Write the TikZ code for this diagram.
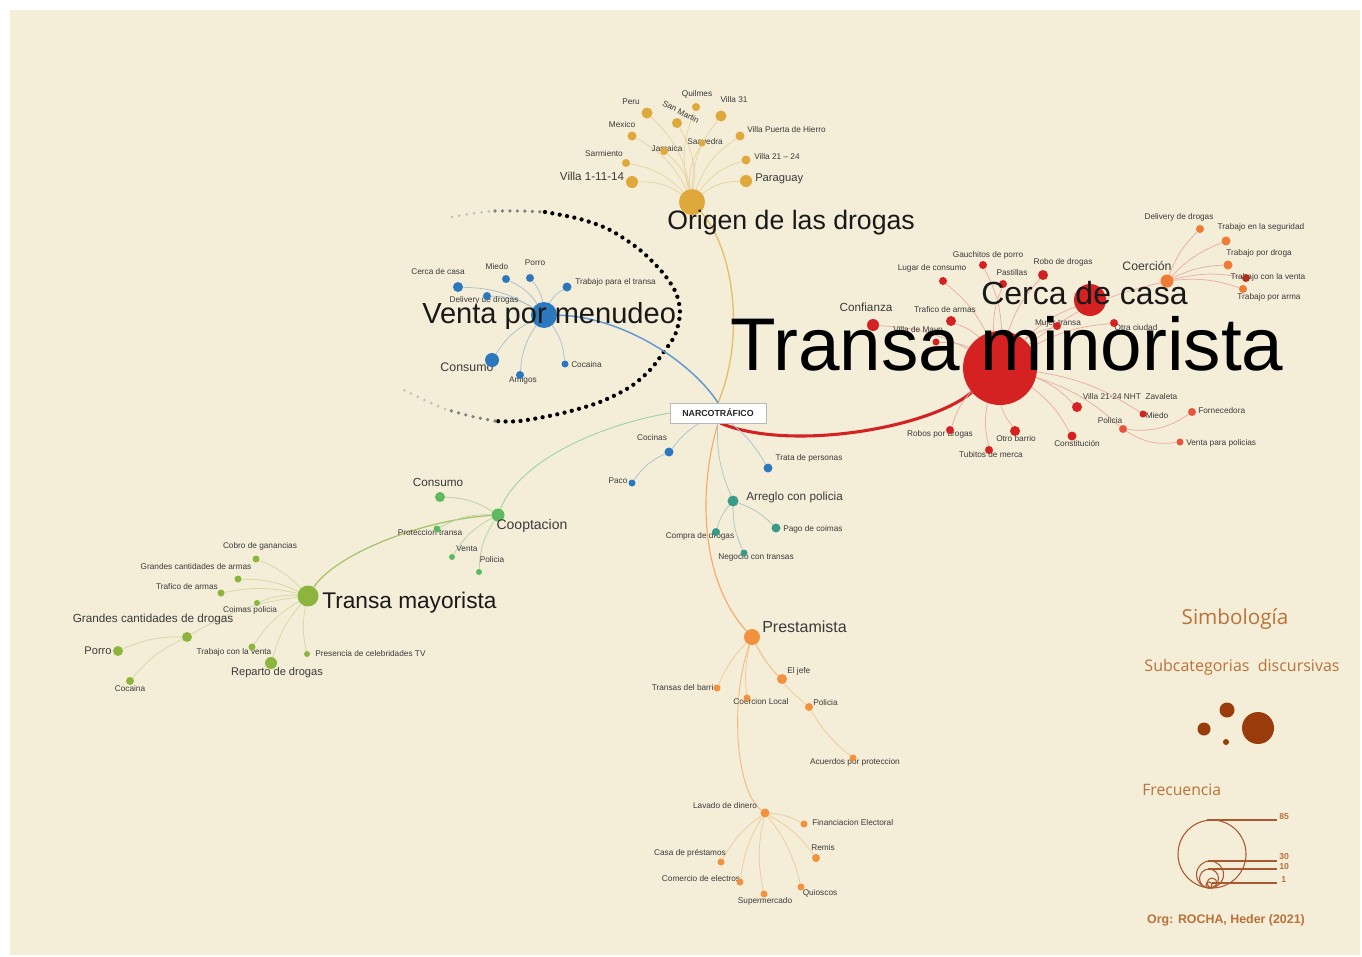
\documentclass[tikz,border=0pt]{standalone}
\usepackage{fontspec}
\setmainfont{Liberation Sans}
\newfontfamily\legf{Open Sans}
\definecolor{bgc}{HTML}{F4EDD7}
\definecolor{corig}{HTML}{DEA83A}
\definecolor{eorig}{HTML}{E8D3A0}
\definecolor{cblue}{HTML}{2B78BE}
\definecolor{eblue}{HTML}{A8C0D0}
\definecolor{cred}{HTML}{D42222}
\definecolor{ered}{HTML}{E9AEA2}
\definecolor{corange}{HTML}{EF7B34}
\definecolor{cdred}{HTML}{B0301E}
\definecolor{cpol}{HTML}{E8553F}
\definecolor{cteal}{HTML}{3A9B8A}
\definecolor{eteal}{HTML}{A9C8BF}
\definecolor{cgreen}{HTML}{5DBA5E}
\definecolor{egreen}{HTML}{B5D4A2}
\definecolor{colive}{HTML}{8DB53D}
\definecolor{eolive}{HTML}{D3D8A6}
\definecolor{cpres}{HTML}{F2923E}
\definecolor{epres}{HTML}{F0C99C}
\definecolor{txt}{HTML}{3A3A3A}
\definecolor{legt}{HTML}{B8733A}
\definecolor{legc}{HTML}{9A3B0C}
\pgfdeclarelayer{bgl}
\pgfdeclarelayer{edges}
\pgfdeclarelayer{labs}
\pgfdeclarelayer{top}
\pgfsetlayers{bgl,edges,labs,main,top}
\begin{document}
\begin{tikzpicture}[x=0.75pt,y=-0.75pt,
  dot/.style={circle,inner sep=0pt,minimum size=1.5pt*#1},
  lab/.style={font=\fontsize{6.2}{7}\selectfont,text=txt,inner sep=0pt},
  mlab/.style={font=\fontsize{#1}{#1}\selectfont,text=txt,inner sep=0pt},
  blab/.style={font=\fontsize{#1}{#1}\selectfont,text=black!90,inner sep=0pt,anchor=base west},
  edg/.style={line width=0.55pt,draw=#1},
  dotsty/.style={line width=#1,dash pattern=on 0pt off 5.6pt,line cap=round},
  legtxt/.style={font=\legf\fontsize{#1}{#1}\selectfont,text=legt,inner sep=0pt},
  legnum/.style={font=\bfseries\fontsize{6.5}{7}\selectfont,text=legt,inner sep=0pt,anchor=west},
  legln/.style={legc!85,line width=0.8pt}]
\useasboundingbox (0,0) rectangle (1362,956);
\begin{pgfonlayer}{bgl}
\fill[white] (0,0) rectangle (1362,956);
\fill[bgc] (10,10) rectangle (1360,955);
\end{pgfonlayer}

% ---------- central box ----------
\node[draw=gray!55,fill=white,minimum width=72pt,minimum height=15pt,inner sep=0pt,
  font=\bfseries\fontsize{6.6}{7}\selectfont,text=black!85] (nar) at (718,413) {NARCOTRÁFICO\hspace{8pt}};

% ---------- ORIGEN ----------
\node[dot=13,fill=corig] (og) at (692,202) {};
\node[dot=6,fill=corig] (og1) at (632,182) {};
\node[dot=4,fill=corig] (og2) at (626,163) {};
\node[dot=4.5,fill=corig] (og3) at (632,136) {};
\node[dot=5.5,fill=corig] (og4) at (647,113) {};
\node[dot=5,fill=corig] (og5) at (677,123) {};
\node[dot=4,fill=corig] (og6) at (696,107) {};
\node[dot=5.5,fill=corig] (og7) at (721,116) {};
\node[dot=4,fill=corig] (og8) at (664,151) {};
\node[dot=3.5,fill=corig] (og9) at (702,143) {};
\node[dot=4.5,fill=corig] (og10) at (740,136) {};
\node[dot=4.5,fill=corig] (og11) at (746,160) {};
\node[dot=6,fill=corig] (og12) at (746,181) {};
\begin{pgfonlayer}{labs}
\node[mlab=8.7] (og1l) at (592,176) {Villa 1-11-14};
\node[lab] (og2l) at (604,154) {Sarmiento};
\node[lab] (og3l) at (622,125) {Mexico};
\node[lab] (og4l) at (631,102) {Peru};
\node[lab,rotate=-28] (og5l) at (681,112) {San Martin};
\node[lab] (og6l) at (697,94) {Quilmes};
\node[lab] (og7l) at (734,100) {Villa 31};
\node[lab] (og8l) at (667,149) {Jamaica};
\node[lab] (og9l) at (705,142) {Saavedra};
\node[lab,anchor=west] (og10l) at (747,130) {Villa Puerta de Hierro};
\node[lab,anchor=west] (og11l) at (754,157) {Villa 21 – 24};
\node[mlab=8.4,anchor=west] (og12l) at (755,179) {Paraguay};
\end{pgfonlayer}

% ---------- VENTA POR MENUDEO ----------
\node[dot=13,fill=cblue] (vm) at (544,315) {};
\node[dot=5,fill=cblue] (vm1) at (458,287) {};
\node[dot=4,fill=cblue] (vm2) at (506,279) {};
\node[dot=4,fill=cblue] (vm3) at (530,278) {};
\node[dot=4.5,fill=cblue] (vm4) at (567,287) {};
\node[dot=4,fill=cblue] (vm5) at (487,296) {};
\node[dot=7,fill=cblue] (vm6) at (492,360) {};
\node[dot=4,fill=cblue] (vm7) at (520,375) {};
\node[dot=3.5,fill=cblue] (vm8) at (565,364) {};
\begin{pgfonlayer}{labs}
\node[lab] (vm1l) at (438,272) {Cerca de casa};
\node[lab] (vm2l) at (497,267) {Miedo};
\node[lab] (vm3l) at (535,263) {Porro};
\node[lab,anchor=west] (vm4l) at (575,282) {Trabajo para el transa};
\node[lab] (vm5l) at (484,300) {Delivery de drogas};
\node[mlab=9.3] (vm6l) at (467,367) {Consumo};
\node[lab] (vm7l) at (523,380) {Amigos};
\node[lab,anchor=west] (vm8l) at (571,365) {Cocaina};
\end{pgfonlayer}

% ---------- TRANSA MINORISTA ----------
\node[dot=37,fill=cred] (tm) at (1000,368) {};
\node[dot=16,fill=cred] (tm1) at (1090,300) {};
\node[dot=6.5,fill=corange] (tm2) at (1167,281) {};
\node[dot=4,fill=corange] (tm2a) at (1200,229) {};
\node[dot=4.5,fill=corange] (tm2b) at (1226,241) {};
\node[dot=4.5,fill=corange] (tm2c) at (1228,265) {};
\node[dot=4,fill=cdred] (tm2d) at (1246,278) {};
\node[dot=4,fill=corange] (tm2e) at (1243,289) {};
\node[dot=4,fill=cred] (tm3) at (983,265) {};
\node[dot=4,fill=cred] (tm4) at (943,281) {};
\node[dot=4,fill=cred] (tm5) at (1003,284) {};
\node[dot=5,fill=cred] (tm6) at (1043,275) {};
\node[dot=6,fill=cred] (tm7) at (873,325) {};
\node[dot=5,fill=cred] (tm8) at (951,321) {};
\node[dot=3.5,fill=cred] (tm9) at (936,342) {};
\node[dot=4,fill=cred] (tm10) at (1057,326) {};
\node[dot=4,fill=cred] (tm11) at (1114,323) {};
\node[dot=5,fill=cred] (tm12) at (1077,407) {};
\node[dot=3.5,fill=cred] (tm13) at (1143,414) {};
\node[dot=4,fill=cpol] (tm14) at (1123,429) {};
\node[dot=4,fill=cpol] (tm15) at (1192,412) {};
\node[dot=3.5,fill=cpol] (tm16) at (1180,442) {};
\node[dot=4.5,fill=cred] (tm17) at (1072,436) {};
\node[dot=5,fill=cred] (tm18) at (1015,431) {};
\node[dot=4,fill=cred] (tm19) at (989,450) {};
\node[dot=4,fill=cred] (tm20) at (950,430) {};
\begin{pgfonlayer}{labs}
\node[mlab=9.2] (tm2l) at (1147,266) {Coerción};
\node[lab] (tm2al) at (1179,217) {Delivery de drogas};
\node[lab] (tm2bl) at (1261,227) {Trabajo en la seguridad};
\node[lab] (tm2cl) at (1259,253) {Trabajo por droga};
\node[lab] (tm2dl) at (1268,277) {Trabajo con la venta};
\node[lab] (tm2el) at (1269,297) {Trabajo por arma};
\node[lab] (tm3l) at (988,255) {Gauchitos de porro};
\node[lab] (tm4l) at (932,268) {Lugar de consumo};
\node[lab] (tm5l) at (1012,273) {Pastillas};
\node[lab] (tm6l) at (1063,262) {Robo de drogas};
\node[mlab=8.8] (tm7l) at (866,307) {Confianza};
\node[lab] (tm8l) at (945,310) {Trafico de armas};
\node[lab] (tm9l) at (918,330) {Villa de Mayo};
\node[lab] (tm10l) at (1058,323) {Mujer transa};
\node[lab] (tm11l) at (1136,328) {Otra ciudad};
\node[lab] (tm12l) at (1130,397) {Villa 21-24 NHT\ \ Zavaleta};
\node[lab] (tm13l) at (1157,416) {Miedo};
\node[lab] (tm14l) at (1110,421) {Policia};
\node[lab,anchor=west] (tm15l) at (1198,411) {Fornecedora};
\node[lab,anchor=west] (tm16l) at (1186,443) {Venta para policias};
\node[lab] (tm17l) at (1077,443) {Constitución};
\node[lab] (tm18l) at (1016,439) {Otro barrio};
\node[lab] (tm19l) at (991,455) {Tubitos de merca};
\node[lab] (tm20l) at (940,434) {Robos por drogas};
\end{pgfonlayer}

% ---------- CENTRE CHILDREN ----------
\node[dot=4.5,fill=cblue] (cc) at (669,452) {};
\node[dot=3.5,fill=cblue] (pa) at (632,483) {};
\node[dot=4.5,fill=cblue] (tp) at (768,468) {};
\node[dot=5.5,fill=cteal] (ap) at (733,501) {};
\node[dot=4,fill=cteal] (ap1) at (716,532) {};
\node[dot=3.5,fill=cteal] (ap2) at (744,553) {};
\node[dot=4.5,fill=cteal] (ap3) at (776,528) {};
\begin{pgfonlayer}{labs}
\node[lab] (ccl) at (652,438) {Cocinas};
\node[lab] (pal) at (618,481) {Paco};
\node[lab] (tpl) at (809,458) {Trata de personas};
\node[mlab=8.8,anchor=west] (apl) at (746,497) {Arreglo con policia};
\node[lab] (ap1l) at (700,536) {Compra de drogas};
\node[lab] (ap2l) at (756,557) {Negocio con transas};
\node[lab,anchor=west] (ap3l) at (783,529) {Pago de coimas};
\end{pgfonlayer}

% ---------- COOPTACION ----------
\node[dot=6.5,fill=cgreen] (co) at (498,515) {};
\node[dot=5,fill=cgreen] (co1) at (440,497) {};
\node[dot=3.5,fill=cgreen] (co2) at (437,529) {};
\node[dot=3,fill=cgreen] (co3) at (452,557) {};
\node[dot=3,fill=cgreen] (co4) at (479,572) {};
\begin{pgfonlayer}{labs}
\node[mlab=8.8] (co1l) at (438,482) {Consumo};
\node[lab] (co2l) at (430,533) {Proteccion transa};
\node[lab] (co3l) at (467,549) {Venta};
\node[lab] (co4l) at (492,560) {Policia};
\end{pgfonlayer}

% ---------- TRANSA MAYORISTA ----------
\node[dot=10.5,fill=colive] (ma) at (308,596) {};
\node[dot=3.5,fill=colive] (ma1) at (256,559) {};
\node[dot=3.5,fill=colive] (ma2) at (238,579) {};
\node[dot=3.5,fill=colive] (ma3) at (221,593) {};
\node[dot=3,fill=colive] (ma4) at (257,603) {};
\node[dot=5,fill=colive] (ma5) at (187,637) {};
\node[dot=5,fill=colive] (ma6) at (118,651) {};
\node[dot=4,fill=colive] (ma7) at (130,681) {};
\node[dot=3.5,fill=colive] (ma8) at (252,647) {};
\node[dot=6,fill=colive] (ma9) at (271,663) {};
\node[dot=3,fill=colive] (ma10) at (307,654) {};
\begin{pgfonlayer}{labs}
\node[lab] (ma1l) at (260,546) {Cobro de ganancias};
\node[lab] (ma2l) at (196,567) {Grandes cantidades de armas};
\node[lab] (ma3l) at (187,587) {Trafico de armas};
\node[lab] (ma4l) at (250,610) {Coimas policia};
\node[mlab=8.8] (ma5l) at (153,619) {Grandes cantidades de drogas};
\node[mlab=8.3] (ma6l) at (98,651) {Porro};
\node[lab] (ma7l) at (130,689) {Cocaina};
\node[lab] (ma8l) at (234,652) {Trabajo con la venta};
\node[mlab=8.3] (ma9l) at (277,673) {Reparto de drogas};
\node[lab,anchor=west] (ma10l) at (315,654) {Presencia de celebridades TV};
\end{pgfonlayer}

% ---------- PRESTAMISTA ----------
\node[dot=8,fill=cpres] (pr) at (752,637) {};
\node[dot=5,fill=cpres] (pr1) at (782,679) {};
\node[dot=3.5,fill=cpres] (pr2) at (717,688) {};
\node[dot=3.5,fill=cpres] (pr3) at (747,698) {};
\node[dot=4,fill=cpres] (pr4) at (809,707) {};
\node[dot=3.5,fill=cpres] (pr5) at (853,758) {};
\begin{pgfonlayer}{labs}
\node[mlab=12,anchor=west] (prl) at (762,627) {Prestamista};
\node[lab,anchor=west] (pr1l) at (787,671) {El jefe};
\node[lab] (pr2l) at (685,688) {Transas del barrio};
\node[lab] (pr3l) at (761,702) {Coercion Local};
\node[lab,anchor=west] (pr4l) at (813,703) {Policia};
\node[lab] (pr5l) at (855,762) {Acuerdos por proteccion};
\end{pgfonlayer}

% ---------- LAVADO ----------
\node[dot=4.5,fill=cpres] (lv) at (765,813) {};
\node[dot=3.5,fill=cpres] (lv1) at (804,824) {};
\node[dot=4,fill=cpres] (lv2) at (816,858) {};
\node[dot=3.5,fill=cpres] (lv3) at (721,862) {};
\node[dot=3.5,fill=cpres] (lv4) at (740,882) {};
\node[dot=3.5,fill=cpres] (lv5) at (764,894) {};
\node[dot=3.5,fill=cpres] (lv6) at (801,887) {};
\begin{pgfonlayer}{labs}
\node[lab] (lvl) at (725,806) {Lavado de dinero};
\node[lab,anchor=west] (lv1l) at (812,823) {Financiacion Electoral};
\node[lab] (lv2l) at (823,848) {Remis};
\node[lab] (lv3l) at (690,853) {Casa de préstamos};
\node[lab] (lv4l) at (701,879) {Comercio de electros};
\node[lab] (lv5l) at (765,901) {Supermercado};
\node[lab] (lv6l) at (820,893) {Quioscos};
\end{pgfonlayer}

% ---------- EDGES ----------
\begin{pgfonlayer}{edges}
% dotted ellipse
\draw[dotsty=3.2pt,black] plot[smooth] coordinates {(545,212) (580,219) (610,230) (640,250) (663,273) (676,293) (680,313) (675,335) (663,353) (650,370) (630,387) (600,402) (563,413) (520,421) (495,421)};
\draw[dotsty=2.7pt,black!50] plot[smooth] coordinates {(495,211) (520,211) (545,212)};
\draw[dotsty=2.7pt,black!50] plot[smooth] coordinates {(495,421) (470,416) (445,409)};
\draw[dotsty=2.2pt,black!25] plot[smooth] coordinates {(452,217) (475,213) (495,211)};
\draw[dotsty=2.2pt,black!25] plot[smooth] coordinates {(445,409) (420,398) (398,387)};
% main branches
\draw[line width=1pt,draw=corig!75] (nar.north) .. controls (745,340) and (735,250) .. (og);
\draw[line width=1.1pt,draw=cblue!75] (nar.north) .. controls (690,360) and (620,316) .. (vm);
\draw[line width=2.3pt,draw=cred] ([xshift=2pt]nar.south) .. controls (790,452) and (930,428) .. (tm);
\draw[line width=0.7pt,draw=cgreen!60] (nar.west) .. controls (600,425) and (520,460) .. (co);
\draw[line width=0.9pt,draw=colive!80] (co) .. controls (420,520) and (335,555) .. (ma);
\draw[line width=0.8pt,draw=cpres!80] (nar.south) .. controls (698,490) and (700,580) .. (pr);
\draw[line width=0.6pt,draw=cpres!70] (pr) .. controls (730,700) and (735,790) .. (lv);
% origen
\foreach \c in {og1,og2,og3,og4,og5,og8} \draw[edg=eorig] (og) to[bend right=18] (\c);
\foreach \c in {og6,og7,og9,og10,og11,og12} \draw[edg=eorig] (og) to[bend left=18] (\c);
% venta
\foreach \c in {vm1,vm2,vm3,vm5,vm6,vm7} \draw[edg=eblue] (vm) to[bend right=15] (\c);
\foreach \c in {vm4,vm8} \draw[edg=eblue] (vm) to[bend left=15] (\c);
% minorista
\foreach \c in {tm3,tm4,tm7,tm8,tm9,tm18,tm19,tm20} \draw[edg=ered] (tm) to[bend right=12] (\c);
\foreach \c in {tm1,tm2,tm5,tm6,tm10,tm11,tm12,tm13,tm14,tm17} \draw[edg=ered] (tm) to[bend left=12] (\c);
\foreach \c in {tm2a,tm2b,tm2c,tm2d,tm2e} \draw[edg=ered] (tm2) to[bend left=12] (\c);
\foreach \c in {tm15,tm16} \draw[edg=ered] (tm14) to[bend right=20] (\c);
% centre
\draw[edg=eblue] (nar) to[bend right=10] (cc);
\draw[edg=eblue] (cc) to[bend right=15] (pa);
\draw[edg=eblue] (nar) to[bend left=10] (tp);
\draw[edg=eteal] (nar) to[bend right=12] (ap);
\foreach \c in {ap1,ap2} \draw[edg=eteal] (ap) to[bend right=12] (\c);
\draw[edg=eteal] (ap) to[bend left=12] (ap3);
% cooptacion
\foreach \c in {co1,co2,co3,co4} \draw[edg=egreen] (co) to[bend right=15] (\c);
% mayorista
\foreach \c in {ma1,ma2,ma3,ma4,ma5,ma8,ma9,ma10} \draw[edg=eolive] (ma) to[bend right=12] (\c);
\foreach \c in {ma6,ma7} \draw[edg=eolive] (ma5) to[bend right=12] (\c);
% prestamista
\foreach \c in {pr1,pr2,pr3,pr4} \draw[edg=epres] (pr) to[bend right=10] (\c);
\draw[edg=epres] (pr4) to[bend right=10] (pr5);
% lavado
\foreach \c in {lv3,lv4,lv5} \draw[edg=epres] (lv) to[bend right=12] (\c);
\foreach \c in {lv1,lv2,lv6} \draw[edg=epres] (lv) to[bend left=12] (\c);
\end{pgfonlayer}

% ---------- BIG LABELS ----------
\begin{pgfonlayer}{top}
\node[blab=20] (ogl) at (667,229) {Origen de las drogas};
\node[blab=21.8] (vml) at (422,323) {Venta por menudeo};
\node[blab=56,text=black] (tml) at (730,370) {Transa minorista};
\node[blab=24] (tm1l) at (981,304) {Cerca de casa};
\node[mlab=10.5] (col) at (532,526) {Cooptacion};
\node[blab=17] (mal) at (322,608) {Transa mayorista};
\end{pgfonlayer}

% ---------- LEGEND ----------
\node[legtxt=15.5] (sim) at (1235,619) {Simbología};
\node[legtxt=12] (sub) at (1242,667) {Subcategorias\ \ discursivas};
\node[dot=7.5,fill=legc] (lc1) at (1227,710) {};
\node[dot=6.5,fill=legc] (lc2) at (1204,729) {};
\node[dot=3,fill=legc] (lc3) at (1226,742) {};
\node[dot=16,fill=legc] (lc4) at (1258,728) {};
\node[legtxt=11.8,anchor=west] (fre) at (1142,790) {Frecuencia};
\draw[legln] (1212,854) circle[radius=34];
\draw[legln] (1210,874.5) circle[radius=13.5];
\draw[legln] (1209,878.5) circle[radius=9.5];
\draw[legln] (1212,883) circle[radius=5];
\draw[legln] (1209,885) circle[radius=3];
\coordinate (f85) at (1207,820);
\coordinate (f30) at (1208,861);
\coordinate (f10) at (1208,869);
\coordinate (f1) at (1212,883);
\coordinate (e85) at (1277,820);
\coordinate (e30) at (1277,861);
\coordinate (e10) at (1277,869);
\coordinate (e1) at (1277,883);
\draw[legln] (f85) -- (e85);
\draw[legln] (f30) -- (e30);
\draw[legln] (f10) -- (e10);
\draw[legln] (f1) -- (e1);
\node[legnum] (n85) at (1279,817) {85};
\node[legnum] (n30) at (1279,857) {30};
\node[legnum] (n10) at (1279,867) {10};
\node[legnum] (n1) at (1281,880) {1};
\node[font=\bfseries\fontsize{9.3}{10}\selectfont,text=legt,inner sep=0pt] (org) at (1226,920) {Org: ROCHA, Heder (2021)};
\end{tikzpicture}
\end{document}
